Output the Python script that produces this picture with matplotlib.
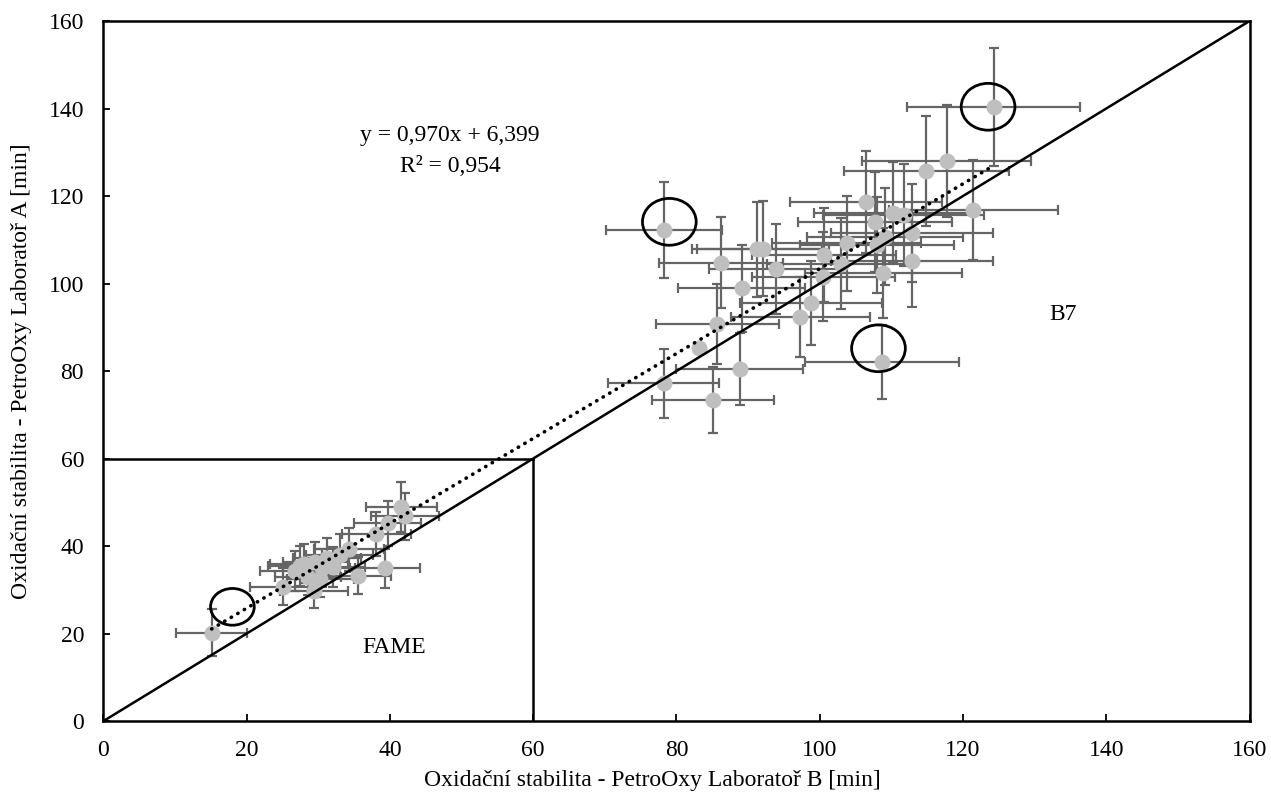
import matplotlib
matplotlib.use('Agg')
import matplotlib.pyplot as plt
from matplotlib.patches import Ellipse

# FAME samples (lab B, lab A) and their error bars
fame_x = [15.1, 25.1, 26.7, 27.5, 28.0, 28.5, 29.4, 29.6, 30.3, 30.5, 31.2, 32.0, 33.0, 34.3, 35.6, 38.1, 39.3, 39.7, 41.6, 42.1]
fame_y = [20.2, 30.7, 34.3, 35.5, 36.0, 33.0, 29.8, 36.3, 32.5, 35.0, 37.2, 35.2, 38.0, 39.3, 33.2, 42.7, 34.9, 45.2, 49.0, 46.8]
fame_xerr = [5.0, 4.6, 4.8, 4.5, 4.7, 4.6, 4.8, 4.5, 4.7, 4.6, 4.8, 4.5, 4.7, 4.9, 4.6, 4.8, 4.9, 4.7, 5.0, 4.8]
fame_yerr = [5.3, 4.2, 4.5, 4.6, 4.4, 4.3, 4.0, 4.6, 4.2, 4.4, 4.7, 4.5, 4.8, 4.9, 4.2, 5.0, 4.5, 5.2, 5.7, 5.4]

# B7 samples
b7_x = [78.3, 86.2, 89.1, 91.2, 92.1, 93.9, 85.7, 83.2, 78.2, 85.1, 88.8, 97.3, 98.8, 100.5, 100.6, 102.9,
        103.8, 106.4, 107.7, 108.0, 109.1, 108.9, 110.2, 111.7, 112.9, 112.9, 114.9, 117.7, 121.4, 124.3, 108.7]
b7_y = [112.2, 104.8, 98.9, 107.8, 108.0, 103.3, 90.7, 85.2, 77.2, 73.4, 80.4, 92.4, 95.6, 101.6, 106.5, 104.5,
        109.2, 118.7, 114.1, 108.8, 110.7, 102.5, 116.2, 115.7, 111.5, 105.2, 125.7, 128.0, 116.8, 140.3, 82.1]
b7_xerr = [8.1, 8.6, 8.9, 9.1, 9.2, 9.4, 8.6, 0.0, 7.8, 8.5, 8.9, 9.7, 9.9, 10.0, 10.1, 10.3,
           10.4, 10.6, 10.8, 10.8, 10.9, 10.9, 11.0, 11.2, 11.3, 11.3, 11.5, 11.8, 11.8, 12.1, 10.8]
b7_yerr = [11.0, 10.5, 9.9, 10.8, 10.8, 10.3, 9.1, 0.0, 7.9, 7.6, 8.2, 9.2, 9.6, 10.2, 10.7, 10.4,
           10.9, 11.7, 11.4, 10.9, 11.1, 10.3, 11.6, 11.6, 11.2, 10.5, 12.6, 12.8, 11.5, 13.5, 8.4]

# trend line from the chart's label
slope = 0.970
intercept = 6.399

# circled outliers: (x, y, width, height) in data units
circles = [(79.0, 114.1, 7.5, 10.7), (123.5, 140.4, 7.5, 10.7), (108.2, 85.2, 7.5, 10.7), (18.0, 26.1, 6.1, 8.4)]

plt.rcParams['font.family'] = ['Liberation Serif', 'DejaVu Serif']
plt.rcParams['font.size'] = 17

fig = plt.figure(figsize=(12.71, 8.05), dpi=100)
ax = fig.add_axes([0.0814, 0.1043, 0.9017, 0.8696])

all_x = fame_x + b7_x
all_y = fame_y + b7_y
all_xerr = fame_xerr + b7_xerr
all_yerr = fame_yerr + b7_yerr

ax.errorbar(all_x, all_y, xerr=all_xerr, yerr=all_yerr, fmt='none', ecolor='#656565',
            elinewidth=1.6, capsize=3.8, capthick=1.6, zorder=2)
ax.plot(all_x, all_y, 'o', color='#bfbfbf', markersize=11.5, markeredgewidth=0, zorder=3)

# 1:1 line and region boundaries
ax.plot([0, 160], [0, 160], color='black', lw=1.8, zorder=4)
ax.plot([0, 60], [60, 60], color='black', lw=1.8, zorder=4)
ax.plot([60, 60], [0, 60], color='black', lw=1.8, zorder=4)

tx = [min(all_x), max(all_x)]
ty = [slope * v + intercept for v in tx]
ax.plot(tx, ty, color='black', lw=2.6, linestyle=(0, (0.1, 2.0)), dash_capstyle='round', zorder=5)

for cx, cy, w, h in circles:
    ax.add_patch(Ellipse((cx, cy), w, h, fill=False, edgecolor='black', lw=2, zorder=6))

ax.text(48.4, 133.8, 'y = 0,970x + 6,399', ha='center', va='center')
ax.text(48.4, 126.8, 'R² = 0,954', ha='center', va='center')
ax.text(40.6, 16.7, 'FAME', ha='center', va='center')
ax.text(133.9, 93.0, 'B7', ha='center', va='center')

ax.set_xlim(0, 160)
ax.set_ylim(0, 160)
ax.set_xticks(range(0, 161, 20))
ax.set_yticks(range(0, 161, 20))
ax.tick_params(axis='x', direction='in', length=5, width=1.3, pad=14)
ax.tick_params(axis='y', direction='in', length=5, width=1.3, pad=14)
for s in ax.spines.values():
    s.set_linewidth(1.8)

ax.set_xlabel('Oxidační stabilita - PetroOxy Laboratoř B [min]')
ax.set_ylabel('Oxidační stabilita - PetroOxy Laboratoř A [min]')
ax.xaxis.set_label_coords(0.479, -0.070)
ax.yaxis.set_label_coords(-0.062, 0.5)

fig.savefig('out.png', dpi=100)
